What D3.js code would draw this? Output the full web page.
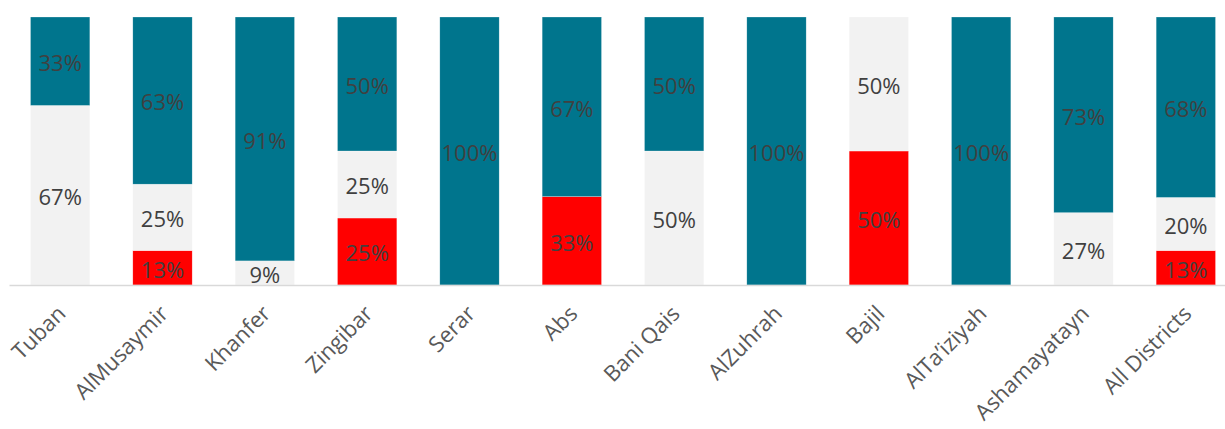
<!DOCTYPE html>
<html lang="en">
<head>
    <meta charset="UTF-8">
    <title>Districts stacked bars</title>
    <script src="https://d3js.org/d3.v7.min.js"></script>
    <style>
        body { margin: 0; background: #fff; }
        svg { display: block; font-family: "Open Sans", "Noto Sans", sans-serif; }
    </style>
</head>
<body>
    <svg id="chart" width="1225" height="429"></svg>

    <script>
        // Districts and their shares (percent, as labelled)
        const districts = ["Tuban", "AlMusaymir", "Khanfer", "Zingibar", "Serar", "Abs",
            "Bani Qais", "AlZuhrah", "Bajil", "AlTa\u2019iziyah", "Ashamayatayn", "All Districts"];
        const redValues  = [0, 13, 0, 25, 0, 33, 0, 0, 50, 0, 0, 13];
        const grayValues = [67, 25, 9, 25, 0, 0, 50, 0, 50, 0, 27, 20];
        const tealValues = [33, 63, 91, 50, 100, 67, 50, 100, 0, 100, 73, 68];

        const seriesKeys = ["red", "gray", "teal"];
        const colors = { red: "#FF0000", gray: "#F2F2F2", teal: "#00758D" };

        const rows = districts.map((name, i) => ({
            name: name,
            red: redValues[i],
            gray: grayValues[i],
            teal: tealValues[i]
        }));

        const svg = d3.select("#chart");
        const margin = { top: 17, bottom: 144, left: 9, right: -12 };
        const width = 1225 - margin.left - margin.right;
        const height = 429 - margin.top - margin.bottom;

        const g = svg.append("g")
            .attr("transform", `translate(${margin.left}, ${margin.top})`);

        const x = d3.scaleBand()
            .domain(districts)
            .range([0, width])
            .paddingInner(0.42)
            .paddingOuter(0.21);

        const y = d3.scaleLinear()
            .domain([0, 1])
            .range([height, 0]);

        const stacked = d3.stack()
            .keys(seriesKeys)
            .offset(d3.stackOffsetExpand)(rows);

        const layers = g.selectAll("g.layer")
            .data(stacked)
            .enter().append("g")
            .attr("class", "layer")
            .attr("fill", d => colors[d.key]);

        layers.selectAll("rect")
            .data(d => d)
            .enter().append("rect")
            .attr("x", d => x(d.data.name))
            .attr("width", x.bandwidth())
            .attr("y", d => y(d[1]))
            .attr("height", d => y(d[0]) - y(d[1]))
            .attr("stroke", "#ffffff")
            .attr("stroke-opacity", 0.5)
            .attr("stroke-width", 0.5);

        // value labels
        stacked.forEach(layer => {
            g.selectAll(null)
                .data(layer.filter(d => d.data[layer.key] > 0))
                .enter().append("text")
                .attr("x", d => x(d.data.name) + x.bandwidth() / 2)
                .attr("y", d => y((d[0] + d[1]) / 2))
                .attr("dy", "0.45em")
                .attr("text-anchor", "middle")
                .attr("font-size", 22)
                .attr("fill", "#404040")
                .text(d => d.data[layer.key] + "%");
        });

        // x axis
        const xAxis = g.append("g")
            .attr("transform", `translate(0, ${height})`)
            .call(d3.axisBottom(x).tickSize(0).tickPadding(0));

        xAxis.select(".domain")
            .attr("stroke", "#D9D9D9")
            .attr("stroke-width", 1.5);

        xAxis.selectAll(".tick text")
            .attr("font-size", 22)
            .attr("font-family", "\"Open Sans\", \"Noto Sans\", sans-serif")
            .attr("fill", "#595959")
            .attr("text-anchor", "end")
            .attr("dy", null)
            .attr("y", 0)
            .attr("transform", "translate(7, 30) rotate(-45)");
    </script>
</body>
</html>
